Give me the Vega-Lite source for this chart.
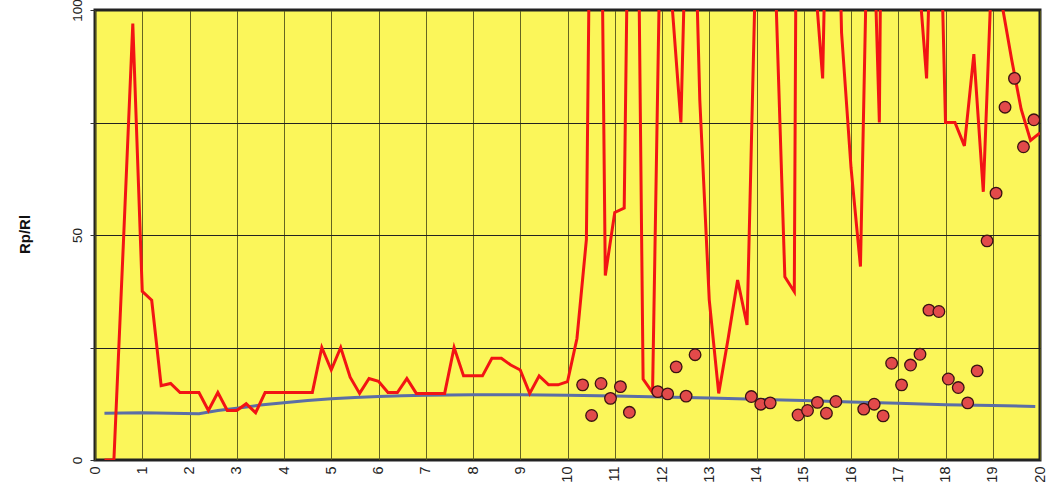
{
  "$schema": "https://vega.github.io/schema/vega-lite/v6.json",
  "width": 945,
  "height": 450,
  "autosize": {"type": "none"},
  "padding": {"left": 95, "top": 10, "right": 18, "bottom": 36},
  "background": "white",
  "config": {
    "view": {"fill": "#fbf65a", "stroke": "#222222", "strokeWidth": 3},
    "font": "Liberation Sans"
  },
  "datasets": {
    "red": [
      {"x": 0.2, "y": 0}, {"x": 0.4, "y": 0}, {"x": 0.6, "y": 48}, {"x": 0.8, "y": 97},
      {"x": 1.0, "y": 37.5}, {"x": 1.2, "y": 35.5}, {"x": 1.4, "y": 16.5}, {"x": 1.6, "y": 17},
      {"x": 1.8, "y": 15}, {"x": 2.0, "y": 15}, {"x": 2.2, "y": 15}, {"x": 2.4, "y": 11},
      {"x": 2.6, "y": 15}, {"x": 2.8, "y": 11}, {"x": 3.0, "y": 11}, {"x": 3.2, "y": 12.5},
      {"x": 3.4, "y": 10.5}, {"x": 3.6, "y": 15}, {"x": 3.8, "y": 15}, {"x": 4.0, "y": 15},
      {"x": 4.2, "y": 15}, {"x": 4.4, "y": 15}, {"x": 4.6, "y": 15}, {"x": 4.8, "y": 25},
      {"x": 5.0, "y": 20}, {"x": 5.2, "y": 25}, {"x": 5.4, "y": 18.4}, {"x": 5.6, "y": 14.8},
      {"x": 5.8, "y": 18.1}, {"x": 6.0, "y": 17.5}, {"x": 6.2, "y": 15}, {"x": 6.4, "y": 15},
      {"x": 6.6, "y": 18.1}, {"x": 6.8, "y": 14.8}, {"x": 7.0, "y": 14.8}, {"x": 7.2, "y": 14.8},
      {"x": 7.4, "y": 14.8}, {"x": 7.6, "y": 25}, {"x": 7.8, "y": 18.7}, {"x": 8.0, "y": 18.7},
      {"x": 8.2, "y": 18.7}, {"x": 8.4, "y": 22.6}, {"x": 8.6, "y": 22.6}, {"x": 8.8, "y": 21.1},
      {"x": 9.0, "y": 20}, {"x": 9.2, "y": 14.8}, {"x": 9.4, "y": 18.7}, {"x": 9.6, "y": 16.7},
      {"x": 9.8, "y": 16.7}, {"x": 10.0, "y": 17.4}, {"x": 10.2, "y": 27}, {"x": 10.4, "y": 49},
      {"x": 10.6, "y": 250}, {"x": 10.8, "y": 41}, {"x": 11.0, "y": 55}, {"x": 11.2, "y": 56},
      {"x": 11.4, "y": 220}, {"x": 11.6, "y": 18}, {"x": 11.8, "y": 15}, {"x": 12.0, "y": 140},
      {"x": 12.2, "y": 103}, {"x": 12.4, "y": 75}, {"x": 12.6, "y": 158}, {"x": 12.8, "y": 80},
      {"x": 13.0, "y": 35.6}, {"x": 13.2, "y": 14.8}, {"x": 13.4, "y": 27}, {"x": 13.6, "y": 40},
      {"x": 13.8, "y": 30}, {"x": 14.0, "y": 118}, {"x": 14.2, "y": 200}, {"x": 14.4, "y": 106.6},
      {"x": 14.6, "y": 40.7}, {"x": 14.8, "y": 37.4}, {"x": 15.0, "y": 455}, {"x": 15.2, "y": 112},
      {"x": 15.4, "y": 84.8}, {"x": 15.6, "y": 186}, {"x": 15.8, "y": 95}, {"x": 16.0, "y": 65},
      {"x": 16.2, "y": 43}, {"x": 16.4, "y": 147}, {"x": 16.6, "y": 75}, {"x": 16.8, "y": 325},
      {"x": 17.0, "y": 200}, {"x": 17.2, "y": 200}, {"x": 17.4, "y": 112}, {"x": 17.6, "y": 84.8},
      {"x": 17.8, "y": 161}, {"x": 18.0, "y": 75}, {"x": 18.2, "y": 75}, {"x": 18.4, "y": 69.8},
      {"x": 18.6, "y": 90.2}, {"x": 18.8, "y": 59.6}, {"x": 19.0, "y": 115}, {"x": 19.2, "y": 101},
      {"x": 19.4, "y": 89}, {"x": 19.6, "y": 78}, {"x": 19.8, "y": 71}, {"x": 20.0, "y": 72.7}
    ],
    "blue": [
      {"x": 0.2, "y": 10.4}, {"x": 1.0, "y": 10.5}, {"x": 2.2, "y": 10.3}, {"x": 2.6, "y": 11.0},
      {"x": 3.0, "y": 11.5}, {"x": 3.5, "y": 12.2}, {"x": 4.0, "y": 12.7}, {"x": 4.5, "y": 13.2},
      {"x": 5.0, "y": 13.6}, {"x": 5.5, "y": 13.9}, {"x": 6.0, "y": 14.1}, {"x": 6.5, "y": 14.3},
      {"x": 7.0, "y": 14.4}, {"x": 8.0, "y": 14.5}, {"x": 9.0, "y": 14.5}, {"x": 10.0, "y": 14.4},
      {"x": 11.0, "y": 14.2}, {"x": 12.0, "y": 14.0}, {"x": 13.0, "y": 13.8}, {"x": 14.0, "y": 13.5},
      {"x": 15.0, "y": 13.2}, {"x": 16.0, "y": 12.9}, {"x": 17.0, "y": 12.6}, {"x": 18.0, "y": 12.3},
      {"x": 19.0, "y": 12.1}, {"x": 19.9, "y": 11.9}
    ],
    "dots": [
      {"x": 10.32, "y": 16.7}, {"x": 10.51, "y": 9.9}, {"x": 10.71, "y": 17.0}, {"x": 10.91, "y": 13.7},
      {"x": 11.12, "y": 16.3}, {"x": 11.31, "y": 10.6}, {"x": 11.91, "y": 15.2}, {"x": 12.12, "y": 14.7},
      {"x": 12.3, "y": 20.7}, {"x": 12.51, "y": 14.2}, {"x": 12.7, "y": 23.4}, {"x": 13.89, "y": 14.1},
      {"x": 14.09, "y": 12.4}, {"x": 14.29, "y": 12.7}, {"x": 14.88, "y": 10.0}, {"x": 15.08, "y": 11.0},
      {"x": 15.29, "y": 12.8}, {"x": 15.48, "y": 10.4}, {"x": 15.68, "y": 13.0}, {"x": 16.27, "y": 11.3},
      {"x": 16.49, "y": 12.4}, {"x": 16.68, "y": 9.8}, {"x": 16.86, "y": 21.5}, {"x": 17.07, "y": 16.7},
      {"x": 17.26, "y": 21.1}, {"x": 17.46, "y": 23.5}, {"x": 17.65, "y": 33.3}, {"x": 17.86, "y": 33.0},
      {"x": 18.06, "y": 18.0}, {"x": 18.27, "y": 16.1}, {"x": 18.47, "y": 12.7}, {"x": 18.67, "y": 19.8},
      {"x": 18.88, "y": 48.7}, {"x": 19.07, "y": 59.3}, {"x": 19.26, "y": 78.4}, {"x": 19.46, "y": 84.8},
      {"x": 19.65, "y": 69.6}, {"x": 19.87, "y": 75.6}
    ]
  },
  "encoding": {
    "x": {
      "field": "x", "type": "quantitative",
      "scale": {"domain": [0, 20], "nice": false, "zero": false},
      "axis": {
        "title": null, "values": [0,1,2,3,4,5,6,7,8,9,10,11,12,13,14,15,16,17,18,19,20],
        "labelAngle": -90, "labelAlign": "right", "labelBaseline": "middle",
        "labelFontSize": 14.5, "labelColor": "#222222", "labelPadding": 6,
        "ticks": false, "domain": false,
        "grid": true, "gridColor": "#55551a", "gridWidth": 1, "gridOpacity": 0.9
      }
    },
    "y": {
      "field": "y", "type": "quantitative",
      "scale": {"domain": [0, 100], "nice": false, "zero": true},
      "axis": {
        "title": "Rp/Rl", "values": [0, 25, 50, 75, 100],
        "labelExpr": "datum.value % 50 === 0 ? datum.label : ''",
        "labelAngle": -90, "labelAlign": "center", "labelBaseline": "bottom",
        "labelFontSize": 13.5, "labelColor": "#222222", "labelPadding": 6,
        "ticks": true, "tickSize": 5, "tickColor": "#333333", "tickOffset": 0,
        "domain": false,
        "grid": true, "gridColor": "#222222", "gridWidth": 1,
        "titleFontSize": 15, "titleFontWeight": "bold", "titleColor": "#111111",
        "titleAngle": -90, "titleAlign": "center", "titleBaseline": "middle",
        "titleX": -71, "titleY": 224
      }
    }
  },
  "layer": [
    {
      "data": {"name": "blue"},
      "mark": {"type": "line", "color": "#5b6ea6", "strokeWidth": 3, "clip": true}
    },
    {
      "data": {"name": "red"},
      "mark": {"type": "line", "color": "#f21414", "strokeWidth": 3, "clip": true}
    },
    {
      "data": {"name": "dots"},
      "mark": {"type": "point", "shape": "circle", "filled": true, "size": 135, "fill": "#e24a4a", "stroke": "#3a1212", "strokeWidth": 1.3, "opacity": 1, "clip": true}
    }
  ]
}
